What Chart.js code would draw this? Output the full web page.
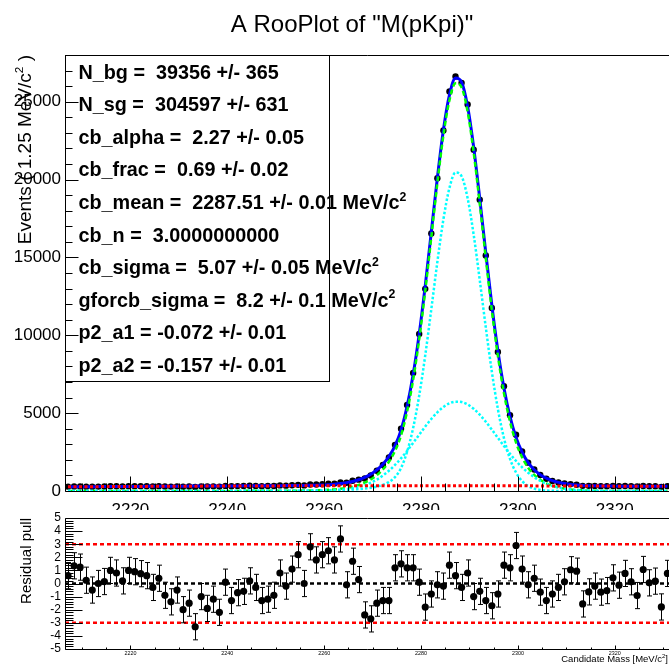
<!DOCTYPE html>
<html lang="en">
<head>
<meta charset="utf-8" />
<title>A RooPlot of "M(pKpi)"</title>
<script src="https://cdn.jsdelivr.net/npm/chart.js"></script>
<style>
    body { margin: 0; background: #fff; }
    #wrap { position: relative; width: 669px; height: 668px; overflow: hidden; background: #fff; }
    #fitCanvas { position: absolute; left: 0; top: 0; }
    #pullCanvas { position: absolute; left: 0; top: 510px; }
</style>
</head>
<body>
<div id="wrap">
    <canvas id="fitCanvas" width="669" height="510"></canvas>
    <canvas id="pullCanvas" width="669" height="158"></canvas>
</div>
<script>
// binning of M(pKpi), 1.25 MeV bins
const binFirst = 2207.125;
const binWidth = 1.25;
const massMin = 2206.5;
const massMax = 2331.2;
const countMax = 28000;

const massTicks = [2220, 2240, 2260, 2280, 2300, 2320];
const countTicks = [0, 5000, 10000, 15000, 20000, 25000];
const pullTicks = [-5, -4, -3, -2, -1, 0, 1, 2, 3, 4, 5];

// events per bin
const events = [
    279, 293, 295, 280, 270, 281, 287, 303, 303, 294,
    310, 310, 310, 309, 296, 310, 289, 282, 300, 276,
    287, 256, 299, 285, 300, 283, 326, 303, 315, 320,
    336, 329, 312, 317, 324, 359, 343, 372, 395, 360,
    421, 413, 434, 461, 475, 550, 531, 654, 730, 804,
    991, 1299, 1668, 2154, 2964, 4004, 5519, 7578, 10085, 12982,
    16532, 20087, 23150, 25661, 26623, 26213, 24819, 21921, 18709, 15126,
    11753, 8930, 6730, 4867, 3610, 2543, 1821, 1381, 1026, 787,
    645, 548, 480, 444, 402, 330, 330, 328, 312, 309,
    324, 310, 325, 310, 290, 324, 304, 304, 268, 311
];

// fitted model (blue), signal sum (green), CB and Gaussian parts (cyan), background (red)
const modelTotal = [
    269, 271, 274, 276, 278, 281, 284, 286, 289, 291,
    293, 295, 297, 299, 301, 304, 305, 307, 309, 311,
    314, 315, 317, 319, 321, 322, 324, 327, 328, 331,
    333, 334, 336, 339, 341, 344, 347, 351, 354, 359,
    367, 377, 391, 409, 438, 477, 533, 612, 722, 874,
    1080, 1354, 1722, 2215, 2899, 3910, 5431, 7474, 10075, 13189,
    16635, 20101, 23180, 25438, 26525, 26262, 24693, 22070, 18791, 15287,
    11939, 9006, 6616, 4784, 3440, 2488, 1825, 1366, 1048, 824,
    666, 555, 477, 422, 384, 360, 342, 332, 324, 319,
    316, 312, 311, 308, 306, 305, 303, 301, 299, 298
];
const modelSignal = [
    1, 1, 1, 1, 1, 1, 2, 2, 2, 2,
    2, 2, 2, 2, 2, 3, 3, 3, 3, 3,
    4, 4, 4, 5, 5, 5, 6, 7, 7, 8,
    9, 9, 10, 12, 13, 15, 17, 20, 23, 27,
    34, 43, 56, 74, 102, 141, 196, 275, 385, 536,
    742, 1016, 1384, 1877, 2561, 3572, 5093, 7135, 9736, 12850,
    16296, 19762, 22841, 25099, 26187, 25924, 24355, 21733, 18454, 14951,
    11604, 8672, 6283, 4452, 3109, 2157, 1495, 1037, 720, 497,
    340, 230, 153, 100, 63, 40, 24, 15, 8, 5,
    3, 1, 1, 0, 0, 0, 0, 0, 0, 0
];
const modelCB = [
    1, 1, 1, 1, 1, 1, 2, 2, 2, 2,
    2, 2, 2, 2, 2, 3, 3, 3, 3, 3,
    4, 4, 4, 5, 5, 5, 6, 7, 7, 8,
    9, 9, 10, 12, 13, 15, 16, 19, 21, 24,
    28, 33, 38, 45, 54, 65, 79, 98, 124, 159,
    210, 283, 396, 578, 890, 1474, 2518, 4047, 6120, 8711,
    11668, 14706, 17444, 19470, 20451, 20214, 18801, 16455, 13553, 10505,
    7663, 5259, 3396, 2065, 1181, 635, 322, 153, 69, 29,
    12, 4, 2, 1, 0, 0, 0, 0, 0, 0,
    0, 0, 0, 0, 0, 0, 0, 0, 0, 0
];
const modelGaus = [
    0, 0, 0, 0, 0, 0, 0, 0, 0, 0,
    0, 0, 0, 0, 0, 0, 0, 0, 0, 0,
    0, 0, 0, 0, 0, 0, 0, 0, 0, 0,
    0, 0, 0, 0, 0, 0, 1, 1, 2, 3,
    6, 10, 18, 29, 48, 76, 117, 177, 261, 377,
    532, 733, 988, 1299, 1671, 2098, 2575, 3088, 3616, 4139,
    4628, 5056, 5397, 5629, 5736, 5710, 5554, 5278, 4901, 4446,
    3941, 3413, 2887, 2387, 1928, 1522, 1173, 884, 651, 468,
    328, 226, 151, 99, 63, 40, 24, 15, 8, 5,
    3, 1, 1, 0, 0, 0, 0, 0, 0, 0
];
const modelBkg = [
    268, 270, 273, 275, 277, 280, 282, 284, 287, 289,
    291, 293, 295, 297, 299, 301, 302, 304, 306, 308,
    310, 311, 313, 314, 316, 317, 318, 320, 321, 323,
    324, 325, 326, 327, 328, 329, 330, 331, 331, 332,
    333, 334, 335, 335, 336, 336, 337, 337, 337, 338,
    338, 338, 338, 338, 338, 338, 338, 339, 339, 339,
    339, 339, 339, 339, 338, 338, 338, 337, 337, 336,
    335, 334, 333, 332, 331, 331, 330, 329, 328, 327,
    326, 325, 324, 322, 321, 320, 318, 317, 316, 314,
    313, 311, 310, 308, 306, 305, 303, 301, 299, 298
];

// residual pull per bin
const pulls = [
    0.6, 1.35, 1.25, 0.25, -0.5, 0.0, 0.15, 1.0, 0.8, 0.2,
    1.0, 0.9, 0.75, 0.6, -0.3, 0.4, -0.9, -1.4, -0.5, -2.0,
    -1.5, -3.3, -1.0, -1.9, -1.2, -2.2, 0.1, -1.3, -0.7, -0.6,
    0.2, -0.3, -1.3, -1.2, -0.9, 0.8, -0.2, 1.1, 2.2, 0.0,
    2.8, 1.8, 2.2, 2.5, 1.8, 3.4, -0.1, 1.7, 0.3, -2.4,
    -2.7, -1.5, -1.3, -1.3, 1.2, 1.5, 1.2, 1.2, 0.1, -1.8,
    -0.8, -0.1, -0.2, 1.4, 0.6, -0.3, 0.8, -1.0, -0.6, -1.3,
    -1.7, -0.8, 1.4, 1.2, 2.9, 1.1, -0.1, 0.4, -0.66, -1.3,
    -0.8, -0.3, 0.13, 1.05, 0.94, -1.56, -0.64, -0.2, -0.66, -0.54,
    0.43, -0.13, 0.77, 0.13, -0.92, 1.07, 0.05, 0.18, -1.79, 0.77
];
const pullLines = [3, 0, -3];

const fitParams = [
    'N_bg =  39356 +/- 365',
    'N_sg =  304597 +/- 631',
    'cb_alpha =  2.27 +/- 0.05',
    'cb_frac =  0.69 +/- 0.02',
    'cb_mean =  2287.51 +/- 0.01 MeV/c^2',
    'cb_n =  3.0000000000',
    'cb_sigma =  5.07 +/- 0.05 MeV/c^2',
    'gforcb_sigma =  8.2 +/- 0.1 MeV/c^2',
    'p2_a1 = -0.072 +/- 0.01',
    'p2_a2 = -0.157 +/- 0.01'
];

const FONT = '"Liberation Sans", Arial, Helvetica, sans-serif';
const massBins = events.map((_, i) => binFirst + i * binWidth);
const xy = arr => arr.map((v, i) => ({ x: massBins[i], y: v }));

// text with "^2" style superscripts
function drawRich(ctx, str, x, y, size, weight, align) {
    const parts = [];
    str.split('^').forEach((seg, k) => {
        if (k === 0) parts.push({ t: seg, sup: false });
        else { parts.push({ t: seg[0], sup: true }); parts.push({ t: seg.slice(1), sup: false }); }
    });
    let total = 0;
    parts.forEach(p => {
        ctx.font = `${weight} ${p.sup ? size * 0.62 : size}px ${FONT}`;
        p.w = ctx.measureText(p.t).width;
        total += p.w;
    });
    let cx = align === 'right' ? x - total : align === 'center' ? x - total / 2 : x;
    ctx.textAlign = 'left';
    parts.forEach(p => {
        ctx.font = `${weight} ${p.sup ? size * 0.62 : size}px ${FONT}`;
        ctx.fillText(p.t, cx, p.sup ? y - size * 0.42 : y);
        cx += p.w;
    });
}

function seg(ctx, x1, y1, x2, y2) {
    ctx.beginPath();
    ctx.moveTo(x1, y1);
    ctx.lineTo(x2, y2);
    ctx.stroke();
}

const fitDecor = {
    id: 'fitDecor',
    afterDraw(chart) {
        const ctx = chart.ctx, a = chart.chartArea;
        const xs = chart.scales.x, ys = chart.scales.y;
        ctx.save();
        ctx.strokeStyle = '#000';
        ctx.fillStyle = '#000';
        ctx.lineWidth = 1;
        const L = a.left + 0.5, T = a.top + 0.5, B = a.bottom + 0.5;
        ctx.beginPath();
        ctx.moveTo(a.right, T); ctx.lineTo(L, T); ctx.lineTo(L, B); ctx.lineTo(a.right, B);
        ctx.stroke();

        // y ticks, minor every 1000
        for (let v = 0; v <= countMax; v += 1000) {
            const y = Math.round(ys.getPixelForValue(v)) + 0.5;
            seg(ctx, L, y, L + (countTicks.includes(v) ? 13 : 7), y);
        }
        ctx.font = `17px ${FONT}`;
        ctx.textAlign = 'right';
        ctx.textBaseline = 'middle';
        countTicks.forEach(v => ctx.fillText(String(v), 61, ys.getPixelForValue(v)));

        // x ticks, minor every 5 MeV
        for (let m = 2210; m <= massMax; m += 5) {
            const x = Math.round(xs.getPixelForValue(m)) + 0.5;
            seg(ctx, x, B, x, B - (massTicks.includes(m) ? 15 : 8));
        }
        ctx.textAlign = 'center';
        ctx.textBaseline = 'alphabetic';
        massTicks.forEach(m => ctx.fillText(String(m), xs.getPixelForValue(m), 514.5));

        // parameter box
        ctx.strokeRect(L, T, 264, 326);
        fitParams.forEach((s, k) => drawRich(ctx, s, 78.5, 78.5 + k * 32.6, 19.8, 'bold', 'left'));

        // title
        drawRich(ctx, 'A RooPlot of "M(pKpi)"', 352, 31.5, 24, 'normal', 'center');

        // y axis title
        ctx.translate(31, 55);
        ctx.rotate(-Math.PI / 2);
        drawRich(ctx, 'Events ( 1.25 MeV/c^2 )', 0, 0, 19, 'normal', 'right');
        ctx.restore();
    }
};

const pullDecor = {
    id: 'pullDecor',
    beforeDatasetsDraw(chart) {
        const ctx = chart.ctx, a = chart.chartArea;
        const xs = chart.scales.x, ys = chart.scales.y;
        ctx.save();
        ctx.lineWidth = 2.5;
        ctx.setLineDash([4, 3]);
        pullLines.forEach(v => {
            ctx.strokeStyle = v === 0 ? '#000' : '#ff0000';
            const y = ys.getPixelForValue(v);
            seg(ctx, a.left, y, a.right, y);
        });
        ctx.setLineDash([]);
        ctx.lineWidth = 1;
        ctx.strokeStyle = '#000';
        pulls.forEach((p, i) => {
            const x = Math.round(xs.getPixelForValue(massBins[i])) + 0.5;
            const y1 = ys.getPixelForValue(p - 1), y2 = ys.getPixelForValue(p + 1);
            seg(ctx, x, y1, x, y2);
            seg(ctx, x - 2.5, y1, x + 2.5, y1);
            seg(ctx, x - 2.5, y2, x + 2.5, y2);
        });
        ctx.restore();
    },
    afterDraw(chart) {
        const ctx = chart.ctx, a = chart.chartArea;
        const xs = chart.scales.x, ys = chart.scales.y;
        ctx.save();
        ctx.strokeStyle = '#000';
        ctx.fillStyle = '#000';
        ctx.lineWidth = 1;
        const L = a.left + 0.5, T = a.top + 0.5, B = a.bottom + 0.5;
        ctx.beginPath();
        ctx.moveTo(a.right, T); ctx.lineTo(L, T); ctx.lineTo(L, B); ctx.lineTo(a.right, B);
        ctx.stroke();

        // y ticks, minor every 0.2
        for (let k = -25; k <= 25; k++) {
            const y = Math.round(ys.getPixelForValue(k / 5)) + 0.5;
            seg(ctx, L, y, L + (k % 5 === 0 ? 17 : 8), y);
        }
        ctx.font = `12px ${FONT}`;
        ctx.textAlign = 'right';
        ctx.textBaseline = 'middle';
        pullTicks.forEach(v => ctx.fillText(String(v), 61, ys.getPixelForValue(v)));

        for (let m = 2210; m <= massMax; m += 5) {
            const x = Math.round(xs.getPixelForValue(m)) + 0.5;
            seg(ctx, x, B, x, B - (massTicks.includes(m) ? 4 : 2));
        }
        ctx.font = `5.4px ${FONT}`;
        ctx.textAlign = 'center';
        ctx.textBaseline = 'alphabetic';
        massTicks.forEach(m => ctx.fillText(String(m), xs.getPixelForValue(m), 144.5));

        drawRich(ctx, 'Candidate Mass [MeV/c^2]', 668, 152, 9.5, 'normal', 'right');

        ctx.translate(31, 8);
        ctx.rotate(-Math.PI / 2);
        drawRich(ctx, 'Residual pull', 0, 0, 15, 'normal', 'right');
        ctx.restore();
    }
};

const curve = (data, color, width, dash) => ({
    type: 'line',
    data: xy(data),
    borderColor: color,
    borderWidth: width,
    borderDash: dash,
    pointRadius: 0,
    fill: false,
    cubicInterpolationMode: 'monotone'
});

const commonOptions = (yMin, yMax, padding) => ({
    responsive: false,
    animation: false,
    devicePixelRatio: 1,
    events: [],
    layout: { padding: padding, autoPadding: false },
    plugins: { legend: { display: false }, tooltip: { enabled: false } },
    scales: {
        x: { type: 'linear', min: massMin, max: massMax, display: false },
        y: { type: 'linear', min: yMin, max: yMax, display: false }
    }
});

new Chart(document.getElementById('fitCanvas').getContext('2d'), {
    type: 'scatter',
    data: {
        datasets: [
            curve(modelBkg, '#ff0000', 3, [3, 2.5]),
            curve(modelCB, '#00ffff', 2.5, [2.5, 2]),
            curve(modelGaus, '#00ffff', 2.5, [2.5, 2]),
            curve(modelSignal, '#00ff00', 2.5, [5, 3]),
            curve(modelTotal, '#0000ff', 3, []),
            {
                data: xy(events),
                pointRadius: 3.2,
                pointBackgroundColor: '#000',
                pointBorderWidth: 0,
                showLine: false
            }
        ]
    },
    options: commonOptions(0, countMax, { left: 65, top: 55, right: 0, bottom: 19 }),
    plugins: [fitDecor]
});

new Chart(document.getElementById('pullCanvas').getContext('2d'), {
    type: 'scatter',
    data: {
        datasets: [{
            data: xy(pulls),
            pointRadius: 3.6,
            pointBackgroundColor: '#000',
            pointBorderWidth: 0,
            showLine: false
        }]
    },
    options: commonOptions(-5, 5, { left: 65, top: 8, right: 0, bottom: 19 }),
    plugins: [pullDecor]
});
</script>
</body>
</html>
